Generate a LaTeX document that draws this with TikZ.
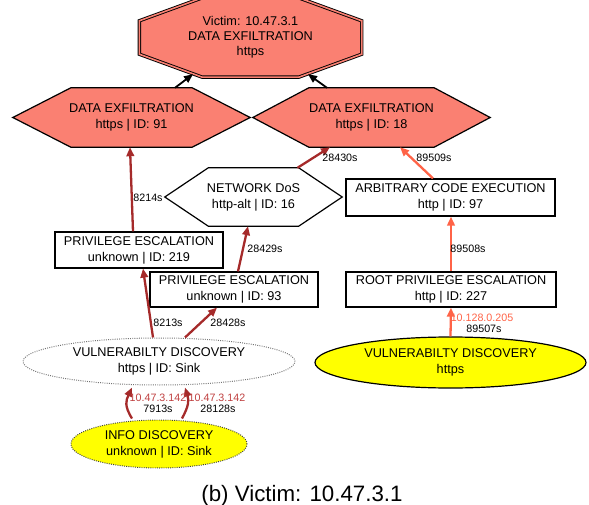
\documentclass[tikz,border=0pt]{standalone}
\usepackage{fontspec}
\setmainfont{Liberation Sans}
\usetikzlibrary{arrows.meta,backgrounds,shapes.geometric}
\definecolor{salmonfill}{HTML}{FA8072}
\definecolor{yellowfill}{HTML}{FFFF00}
\definecolor{brownedge}{HTML}{A52A2A}
\definecolor{tomatoedge}{HTML}{FF6347}
\definecolor{iplabel}{HTML}{BF4040}

\tikzset{
  shapetext/.style={draw=none, inner sep=0pt, align=center,
    font=\fontsize{12.7}{16}\selectfont},
  boxnode/.style={shapetext, draw=black, line width=1.2pt, fill=white},
  ellnode/.style={shapetext, ellipse},
  polyline/.style={draw=black, line width=1.2pt},
  attack/.style={line width=2.3pt, draw=brownedge,
    -{Triangle[length=9pt,width=7.5pt]}},
  rootpath/.style={line width=2.3pt, draw=tomatoedge,
    -{Triangle[length=9pt,width=7.5pt]}},
  victimlink/.style={line width=1.8pt, draw=black,
    -{Triangle[length=9pt,width=7.5pt]}},
  timelabel/.style={inner sep=0pt, font=\fontsize{10.7}{12}\selectfont},
  iptext/.style={timelabel, text=iplabel},
}

% hexagon drawn round a node: #1 node name, #2 tip length, #3 fill colour
\newcommand\drawhex[3]{%
  \begin{scope}[on background layer]
    \draw[polyline, fill=#3] (#1.west) -- ([xshift=#2]#1.north west)
      -- ([xshift=-#2]#1.north east) -- (#1.east)
      -- ([xshift=-#2]#1.south east) -- ([xshift=#2]#1.south west) -- cycle;
  \end{scope}}

\begin{document}
\begin{tikzpicture}[x=1pt,y=-1pt]
\useasboundingbox (0,0) rectangle (589,505);

% ---- target of the whole chain ----
\node[shapetext, font=\fontsize{12.7}{15}\selectfont,
      minimum width=222pt, minimum height=79pt] (oct) at (250.5,37.5)
  {Victim: 10.47.3.1\\DATA EXFILTRATION\\https};
\begin{scope}[on background layer]
  \draw[fill=salmonfill, draw=black, line width=0.9pt, double=salmonfill,
        double distance=1.6pt]
    ([yshift=-23pt]oct.north west) -- ([xshift=63pt]oct.north west)
    -- ([xshift=-63pt]oct.north east) -- ([yshift=-23pt]oct.north east)
    -- ([yshift=23pt]oct.south east) -- ([xshift=-63pt]oct.south east)
    -- ([xshift=63pt]oct.south west) -- ([yshift=23pt]oct.south west) -- cycle;
\end{scope}

% ---- hexagons ----
\node[shapetext, minimum width=237pt, minimum height=59pt] (d91) at (131.5,117.5)
  {DATA EXFILTRATION\\https | ID: 91};
\drawhex{d91}{58pt}{salmonfill}
\node[shapetext, minimum width=237pt, minimum height=59pt] (d18) at (371.5,117.5)
  {DATA EXFILTRATION\\https | ID: 18};
\drawhex{d18}{56pt}{salmonfill}
\node[shapetext, minimum width=177pt, minimum height=58pt] (dos) at (253.5,197)
  {NETWORK DoS\\http-alt | ID: 16};
\drawhex{dos}{43.5pt}{white}

% ---- boxes ----
\node[boxnode, minimum width=168pt, minimum height=36pt] (p219) at (139,250)
  {PRIVILEGE ESCALATION\\unknown | ID: 219};
\node[boxnode, minimum width=168pt, minimum height=35pt] (p93) at (234,289.5)
  {PRIVILEGE ESCALATION\\unknown | ID: 93};
\node[boxnode, minimum width=209pt, minimum height=37pt] (ace) at (450.5,197.5)
  {ARBITRARY CODE EXECUTION\\http | ID: 97};
\node[boxnode, minimum width=210pt, minimum height=35pt] (rpe) at (451,289.5)
  {ROOT PRIVILEGE ESCALATION\\http | ID: 227};

% ---- ellipses ----
\node[ellnode, draw=black, line width=1.2pt, fill=yellowfill,
      minimum width=271pt, minimum height=51pt] (vdy) at (450.5,362.5)
  {VULNERABILTY DISCOVERY\\https};
\node[ellnode, draw=black!55, line width=1pt, dash pattern=on 0.9pt off 1.3pt,
      minimum width=272pt, minimum height=47pt] (sink) at (159,361.5)
  {VULNERABILTY DISCOVERY\\https | ID: Sink};
\node[ellnode, draw=black!75, line width=1pt, dash pattern=on 0.9pt off 1.3pt,
      fill=yellowfill, minimum width=176pt, minimum height=48pt] (info) at (159,444)
  {INFO DISCOVERY\\unknown | ID: Sink};

% ---- connectors ----
\draw[victimlink] ([xshift=43.5pt]d91.north) -- ([xshift=-57.5pt,yshift=3pt]oct.south);
\draw[victimlink] ([xshift=-44.5pt]d18.north) -- ([xshift=57.5pt,yshift=3pt]oct.south);

\draw[attack] ([xshift=-6pt]p219.north) -- ([xshift=-1.5pt]d91.south);
\draw[attack] ([xshift=-6pt]sink.north) -- ([xshift=4pt]p219.south);
\draw[attack] ([xshift=26pt]sink.north) -- ([xshift=-17pt]p93.south);
\draw[attack] ([xshift=4pt]p93.north) -- ([xshift=-5.5pt]dos.south);
\draw[attack] ([xshift=44pt]dos.north) -- ([xshift=-41.5pt]d18.south);
\draw[attack] ([xshift=-27pt,yshift=1pt]info.north)
  .. controls +(-8,-13) and +(-6,13) .. ([xshift=-27pt,yshift=-2pt]sink.south);
\draw[attack] ([xshift=23pt,yshift=1pt]info.north)
  .. controls +(7,-13) and +(4,13) .. ([xshift=26pt,yshift=-2pt]sink.south);

\draw[rootpath] ([xshift=-17.5pt]ace.north) -- ([xshift=28.5pt]d18.south);
\draw[rootpath] (rpe.north) -- ([xshift=0.5pt]ace.south);
\draw[rootpath] (vdy.north) -- (rpe.south);

% ---- connector labels ----
\node[timelabel] (t8214) at (148,198) {8214s};
\node[timelabel] (t8213) at (168,323) {8213s};
\node[timelabel] (t28428) at (228,323) {28428s};
\node[timelabel] (t28429) at (265,249) {28429s};
\node[timelabel] (t28430) at (340,158) {28430s};
\node[timelabel] (t89509) at (434,158) {89509s};
\node[timelabel] (t89508) at (468,249) {89508s};
\node[iptext, text=tomatoedge] (ip205) at (482,318) {10.128.0.205};
\node[timelabel] (t89507) at (484,328.5) {89507s};
\node[iptext] (ipa) at (158,398) {10.47.3.142};
\node[timelabel] (t7913) at (158,409) {7913s};
\node[iptext] (ipb) at (217,398) {10.47.3.142};
\node[timelabel] (t28128) at (218,409) {28128s};

% ---- caption ----
\node[inner sep=0pt, anchor=base, font=\fontsize{22.3}{26}\selectfont] (caption)
  at (302,501) {(b) Victim: 10.47.3.1};
\end{tikzpicture}
\end{document}
